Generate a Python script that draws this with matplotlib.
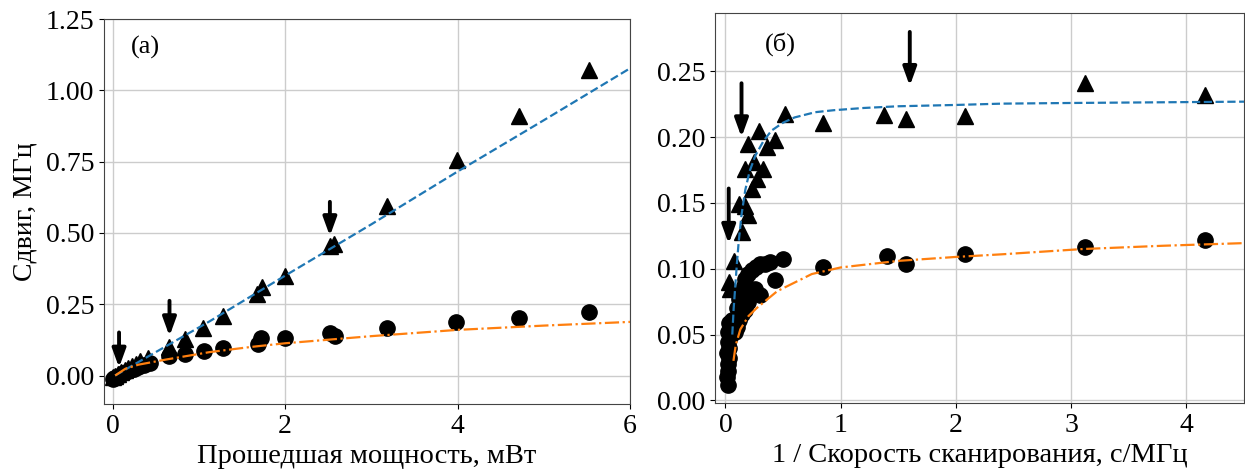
#!/usr/bin/env python3
# -*- coding: utf-8 -*-

import matplotlib
matplotlib.use("Agg")
import matplotlib.pyplot as plt

# ---------------- dados ----------------

# (a) deslocamento vs potência transmitida
pow_tri = [0.0, 0.03, 0.06, 0.10, 0.14, 0.18, 0.22, 0.27, 0.32, 0.41,
           0.66, 0.84, 1.05, 1.28, 1.68, 1.73, 2.0, 2.52, 2.57, 3.18, 3.99, 4.71, 5.52]
shift_tri = [-0.005, 0.0, 0.005, 0.012, 0.02, 0.025, 0.033, 0.04, 0.05, 0.063,
             0.10, 0.127, 0.168, 0.21, 0.285, 0.31, 0.35, 0.455, 0.46, 0.595, 0.757, 0.91, 1.07]

pow_circ = [0.0, 0.02, 0.05, 0.08, 0.12, 0.16, 0.20, 0.25, 0.30, 0.36, 0.43,
            0.66, 0.835, 1.06, 1.28, 1.69, 1.725, 2.0, 2.52, 2.58, 3.18, 3.98, 4.71, 5.52]
shift_circ = [-0.012, -0.008, -0.005, 0.0, 0.008, 0.012, 0.018, 0.023, 0.03, 0.037, 0.045,
              0.067, 0.077, 0.087, 0.095, 0.112, 0.133, 0.132, 0.150, 0.138, 0.168, 0.188, 0.203, 0.221]

# curvas de ajuste (a)
fit_a_blue_x = [0.03, 0.35, 1.125, 2.0, 3.0, 4.0, 5.0, 6.0]
fit_a_blue_y = [0.0, 0.056, 0.19, 0.35, 0.53, 0.715, 0.895, 1.077]
fit_a_orng_x = [0.03, 0.15, 0.3, 0.62, 1.125, 1.6, 2.0, 3.0, 4.0, 5.0, 6.0]
fit_a_orng_y = [0.0, 0.024, 0.038, 0.056, 0.082, 0.1, 0.113, 0.138, 0.16, 0.175, 0.188]

# setas (a): x, y_topo, y_ponta
arr_a_x = [0.075, 0.66, 2.52]
arr_a_top = [0.151, 0.262, 0.609]
arr_a_tip = [0.028, 0.138, 0.489]

# (б) deslocamento vs 1/velocidade de varredura
inv_tri = [0.029, 0.043, 0.072, 0.115, 0.144, 0.173, 0.20, 0.23, 0.245, 0.274,
           0.173, 0.33, 0.20, 0.36, 0.43, 0.288, 0.52, 0.845, 1.38, 1.57, 2.08, 3.12, 4.16]
shift2_tri = [0.09, 0.085, 0.106, 0.1495, 0.128, 0.148, 0.1405, 0.161, 0.181, 0.1685,
              0.176, 0.176, 0.195, 0.1925, 0.198, 0.205, 0.218, 0.211, 0.2166, 0.2135, 0.216, 0.241, 0.232]

inv_circ = [0.02, 0.015, 0.025, 0.02, 0.03, 0.015, 0.035, 0.02, 0.04, 0.025, 0.05, 0.035, 0.06,
            0.08, 0.10, 0.12, 0.14, 0.17, 0.20, 0.23, 0.26, 0.30,
            0.10, 0.12, 0.14, 0.158, 0.173, 0.20, 0.23, 0.27, 0.30, 0.34, 0.39,
            0.43, 0.50, 0.845, 1.40, 1.57, 2.08, 3.12, 4.16]
shift2_circ = [0.012, 0.018, 0.022, 0.028, 0.032, 0.036, 0.04, 0.044, 0.048, 0.052, 0.056, 0.059, 0.061,
               0.052, 0.056, 0.061, 0.066, 0.069, 0.075, 0.081, 0.085, 0.080,
               0.07, 0.077, 0.082, 0.087, 0.092, 0.096, 0.099, 0.101, 0.104, 0.104, 0.105,
               0.0915, 0.1075, 0.101, 0.110, 0.104, 0.111, 0.1165, 0.122]

# curvas de ajuste (б)
fit_b_blue_x = [0.06, 0.072, 0.087, 0.10, 0.115, 0.14, 0.173, 0.21, 0.26, 0.33, 0.40,
                0.50, 0.60, 0.78, 0.94, 1.2, 1.5, 2.0, 2.4, 3.0, 4.5]
fit_b_blue_y = [0.05, 0.07, 0.088, 0.104, 0.12, 0.141, 0.16, 0.174, 0.186, 0.197, 0.205,
                0.211, 0.215, 0.219, 0.2205, 0.2222, 0.2235, 0.2245, 0.2255, 0.226, 0.227]
fit_b_orng_x = [0.07, 0.09, 0.13, 0.20, 0.27, 0.45, 0.75, 1.0, 1.5, 2.0, 2.4, 3.1, 3.8, 4.5]
fit_b_orng_y = [0.03, 0.042, 0.054, 0.064, 0.070, 0.083, 0.096, 0.101, 0.106, 0.109,
                0.111, 0.115, 0.1175, 0.1195]

arr_b_x = [0.029, 0.14, 1.60]
arr_b_top = [0.161, 0.241, 0.280]
arr_b_tip = [0.119, 0.200, 0.239]

# ---------------- estilo ----------------

plt.rcParams["font.family"] = ["Liberation Serif", "DejaVu Serif"]
plt.rcParams["axes.edgecolor"] = "#444444"
plt.rcParams["grid.color"] = "#cccccc"
plt.rcParams["grid.linewidth"] = 1.0
plt.rcParams["xtick.labelsize"] = 20
plt.rcParams["ytick.labelsize"] = 20

BLUE = "#1f77b4"
ORANGE = "#ff7f0e"


def draw_arrows(ax, xs, tops, tips):
    for x, yt, yp in zip(xs, tops, tips):
        ax.annotate("", xy=(x, yp), xytext=(x, yt),
                    arrowprops=dict(arrowstyle="-|>,head_length=0.55,head_width=0.2",
                                    lw=2.8, color="black", mutation_scale=20,
                                    shrinkA=0, shrinkB=0))


fig = plt.figure(figsize=(12.45, 4.72), dpi=100)

# (a)
ax1 = fig.add_axes([0.0835, 0.144, 0.4225, 0.8157])
ax1.grid(True, zorder=0)
ax1.plot(fit_a_blue_x, fit_a_blue_y, "--", color=BLUE, lw=1.6, zorder=3)
ax1.plot(fit_a_orng_x, fit_a_orng_y, "-.", color=ORANGE, lw=1.6, zorder=3)
ax1.plot(pow_tri, shift_tri, "^", color="black", ms=12, ls="none", zorder=2)
ax1.plot(pow_circ, shift_circ, "o", color="black", ms=11, ls="none", zorder=2)
draw_arrows(ax1, arr_a_x, arr_a_top, arr_a_tip)
ax1.set_xlim(-0.1, 6.0)
ax1.set_ylim(-0.1, 1.25)
ax1.set_xticks([0, 2, 4, 6])
ax1.set_yticks([0.0, 0.25, 0.5, 0.75, 1.0, 1.25])
ax1.set_xlabel("Прошедшая мощность, мВт", fontsize=20.5)
ax1.set_ylabel("Сдвиг, МГц", fontsize=20, labelpad=6)
ax1.text(0.078, 0.927, "(a)", transform=ax1.transAxes, fontsize=19,
         ha="center", va="center")

# (б)
ax2 = fig.add_axes([0.5743, 0.1462, 0.4249, 0.8252])
ax2.grid(True, zorder=0)
ax2.plot(fit_b_blue_x, fit_b_blue_y, "--", color=BLUE, lw=1.6, zorder=3)
ax2.plot(fit_b_orng_x, fit_b_orng_y, "-.", color=ORANGE, lw=1.6, zorder=3)
ax2.plot(inv_tri, shift2_tri, "^", color="black", ms=12, ls="none", zorder=2)
ax2.plot(inv_circ, shift2_circ, "o", color="black", ms=11, ls="none", zorder=2)
draw_arrows(ax2, arr_b_x, arr_b_top, arr_b_tip)
ax2.set_xlim(-0.09, 4.5)
ax2.set_ylim(-0.002, 0.294)
ax2.set_xticks([0, 1, 2, 3, 4])
ax2.set_yticks([0.0, 0.05, 0.10, 0.15, 0.20, 0.25])
ax2.set_xlabel("1 / Скорость сканирования, с/МГц", fontsize=20.5)
ax2.text(0.123, 0.922, "(б)", transform=ax2.transAxes, fontsize=19,
         ha="center", va="center")

for ax in (ax1, ax2):
    ax.set_axisbelow(True)

fig.savefig("out.png", dpi=100)
